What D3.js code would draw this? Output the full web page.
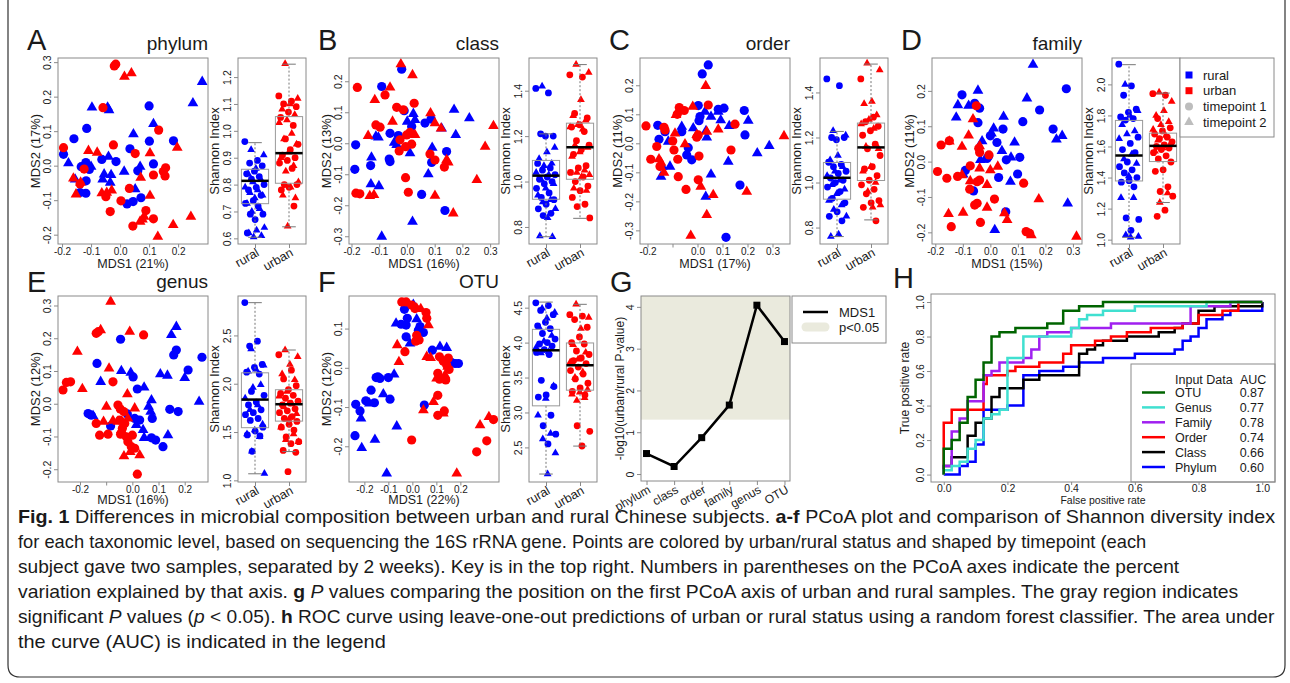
<!DOCTYPE html>
<html>
<head>
<meta charset="utf-8">
<script src="https://cdn.jsdelivr.net/npm/d3@7"></script>
<style>
  body { margin: 0; background: #fff; }
  svg text { font-family: "Liberation Sans", Arial, Helvetica, sans-serif; fill: #1a1a1a; }
</style>
</head>
<body>
<svg id="fig" width="1290" height="683"></svg>
<script>
// ---------- PCoA points: [MDS1, MDS2, group]  r = rural, u = urban, 1/2 = timepoint ----------
var phylumPts = [
  [0.100,0.173,"r1"],[-0.115,0.108,"r1"],[-0.159,0.078,"r1"],[0.184,0.072,"r1"],[0.101,0.071,"r1"],
  [0.034,0.049,"r1"],[-0.195,0.033,"r1"],[-0.134,-0.003,"r1"],[-0.118,0.009,"r1"],[-0.063,0.018,"r1"],
  [-0.014,0.012,"r1"],[0.115,0.005,"r1"],[0.061,-0.015,"r1"],[-0.117,-0.044,"r1"],[-0.138,-0.078,"r1"],
  [-0.118,-0.080,"r1"],[0.072,-0.093,"r1"],[0.024,-0.111,"r1"],[0.045,-0.104,"r1"],[-0.106,-0.011,"r1"],
  [0.283,0.243,"r2"],[0.251,0.181,"r2"],[-0.097,0.169,"r2"],[-0.043,0.169,"r2"],[-0.038,0.161,"r2"],
  [0.115,0.121,"r2"],[0.046,0.091,"r2"],[-0.178,0.007,"r2"],[-0.100,-0.003,"r2"],[-0.040,0.026,"r2"],
  [0.069,-0.003,"r2"],[0.014,-0.017,"r2"],[-0.055,-0.025,"r2"],[-0.031,-0.027,"r2"],[-0.060,-0.040,"r2"],
  [-0.034,-0.049,"r2"],[0.052,-0.068,"r2"],[-0.155,-0.040,"r2"],
  [-0.020,0.289,"u1"],[-0.015,0.294,"u1"],[-0.059,0.168,"u1"],[0.133,0.103,"u1"],[-0.195,0.052,"u1"],
  [-0.023,0.060,"u1"],[0.052,0.035,"u1"],[0.157,-0.006,"u1"],[0.149,-0.017,"u1"],[0.155,-0.030,"u1"],
  [0.115,-0.027,"u1"],[-0.124,-0.010,"u1"],[-0.049,-0.090,"u1"],[0.032,-0.066,"u1"],[0.003,-0.102,"u1"],
  [-0.034,-0.133,"u1"],[0.089,-0.130,"u1"],[0.115,-0.154,"u1"],[0.044,-0.175,"u1"],[-0.138,-0.053,"u1"],
  [0.015,0.258,"u2"],[0.039,0.268,"u2"],[0.197,0.052,"u2"],[-0.109,0.043,"u2"],[-0.079,0.038,"u2"],
  [0.103,0.036,"u2"],[0.071,-0.035,"u2"],[-0.161,-0.037,"u2"],[-0.136,-0.049,"u2"],[-0.152,-0.083,"u2"],
  [-0.063,-0.080,"u2"],[-0.046,-0.078,"u2"],[-0.029,-0.072,"u2"],[0.103,-0.087,"u2"],[0.077,-0.156,"u2"],
  [0.083,-0.148,"u2"],[0.069,-0.162,"u2"],[0.183,-0.172,"u2"],[0.244,-0.148,"u2"],[0.130,-0.206,"u2"]
];
var classPts = [
  [-0.019,0.239,"r1"],[-0.091,0.183,"r1"],[-0.010,0.105,"r1"],[0.087,0.078,"r1"],[0.065,0.065,"r1"],
  [0.017,0.054,"r1"],[-0.061,0.032,"r1"],[-0.031,0.025,"r1"],[-0.185,-0.005,"r1"],[0.143,-0.027,"r1"],
  [-0.131,-0.072,"r1"],[-0.064,-0.051,"r1"],[-0.061,-0.059,"r1"],[0.089,-0.062,"r1"],[-0.188,-0.084,"r1"],
  [0.053,-0.165,"r1"],[0.137,-0.217,"r1"],
  [0.023,0.095,"r2"],[0.170,0.108,"r2"],[0.225,0.081,"r2"],[0.125,0.048,"r2"],[0.029,0.075,"r2"],
  [0.001,0.070,"r2"],[-0.112,0.022,"r2"],[-0.103,0.019,"r2"],[-0.046,0.002,"r2"],[-0.037,-0.005,"r2"],
  [0.011,-0.032,"r2"],[0.091,-0.014,"r2"],[-0.128,-0.046,"r2"],[0.077,-0.100,"r2"],[-0.130,-0.132,"r2"],
  [-0.101,-0.138,"r2"],[0.020,-0.253,"r2"],[-0.091,-0.301,"r2"],[0.176,0.027,"r2"],
  [-0.179,0.180,"u1"],[-0.079,0.156,"u1"],[-0.037,0.116,"u1"],[-0.013,0.108,"u1"],[0.026,0.129,"u1"],
  [-0.112,0.059,"u1"],[-0.097,0.052,"u1"],[0.011,0.035,"u1"],[-0.001,0.027,"u1"],[-0.025,0.011,"u1"],
  [-0.005,-0.011,"u1"],[0.017,-0.003,"u1"],[-0.028,-0.025,"u1"],[0.083,-0.035,"u1"],[0.101,-0.054,"u1"],
  [0.135,-0.077,"u1"],[-0.005,-0.111,"u1"],[-0.184,-0.161,"u1"],[-0.170,-0.163,"u1"],[0.005,-0.158,"u1"],
  [-0.022,0.255,"u2"],[0.020,0.220,"u2"],[-0.061,0.180,"u2"],[-0.116,0.140,"u2"],[0.085,0.097,"u2"],
  [0.312,0.056,"u2"],[0.101,0.065,"u2"],[0.123,0.048,"u2"],[-0.052,0.070,"u2"],[0.029,0.027,"u2"],
  [-0.140,0.024,"u2"],[0.143,-0.054,"u2"],[0.149,-0.062,"u2"],[0.282,-0.011,"u2"],[0.252,-0.118,"u2"],
  [-0.134,-0.170,"u2"],[-0.119,-0.167,"u2"],[0.101,-0.169,"u2"],[0.167,-0.226,"u2"]
];
var orderPts = [
  [0.043,0.270,"r1"],[0.019,0.239,"r1"],[0.003,0.130,"r1"],[0.083,0.117,"r1"],[0.106,0.121,"r1"],
  [0.187,0.113,"r1"],[0.010,0.092,"r1"],[0.006,0.078,"r1"],[-0.159,0.062,"r1"],[-0.154,0.014,"r1"],
  [-0.130,0.040,"r1"],[-0.037,-0.015,"r1"],[-0.043,-0.040,"r1"],[-0.023,-0.057,"r1"],[0.190,0.029,"r1"],
  [0.170,-0.144,"r1"],[0.114,-0.324,"r1"],[-0.063,0.040,"r1"],
  [0.030,0.109,"r2"],[0.054,0.092,"r2"],[0.083,0.109,"r2"],[0.093,0.080,"r2"],[0.203,0.078,"r2"],
  [0.127,0.060,"r2"],[-0.063,0.057,"r2"],[-0.017,0.052,"r2"],[0.034,0.043,"r2"],[0.037,0.020,"r2"],
  [-0.117,0.006,"r2"],[0.287,-0.009,"r2"],[0.239,-0.034,"r2"],[-0.110,-0.080,"r2"],[-0.141,-0.080,"r2"],
  [0.123,-0.063,"r2"],[-0.146,-0.115,"r2"],[0.054,-0.107,"r2"],[0.033,-0.184,"r2"],
  [-0.073,0.123,"u1"],[-0.053,0.113,"u1"],[-0.081,0.100,"u1"],[0.043,0.132,"u1"],[0.150,0.066,"u1"],
  [-0.206,0.060,"u1"],[-0.134,0.055,"u1"],[-0.130,0.046,"u1"],[-0.003,0.021,"u1"],[0.003,0.029,"u1"],
  [-0.099,0.008,"u1"],[-0.163,-0.011,"u1"],[-0.094,-0.023,"u1"],[0.134,-0.023,"u1"],[-0.187,-0.055,"u1"],
  [-0.079,-0.055,"u1"],[0.006,-0.044,"u1"],[-0.150,-0.080,"u1"],[-0.077,-0.115,"u1"],[0.003,-0.126,"u1"],
  [-0.046,-0.159,"u1"],
  [0.033,0.198,"u2"],[-0.019,0.126,"u2"],[0.083,0.048,"u2"],[0.346,0.025,"u2"],[-0.090,0.034,"u2"],
  [-0.003,0.029,"u2"],[0.037,0.040,"u2"],[-0.050,-0.003,"u2"],[-0.154,-0.055,"u2"],[-0.146,-0.067,"u2"],
  [-0.134,-0.101,"u2"],[0.013,-0.149,"u2"],[0.197,-0.167,"u2"],[0.063,-0.178,"u2"],[0.037,-0.247,"u2"],
  [-0.027,-0.318,"u2"],[-0.086,0.098,"u2"]
];
var familyPts = [
  [0.276,0.206,"r1"],[-0.103,0.189,"r1"],[-0.057,0.165,"r1"],[-0.039,0.151,"r1"],[-0.045,0.110,"r1"],
  [0.179,0.146,"r1"],[0.118,0.113,"r1"],[0.228,0.092,"r1"],[0.046,0.092,"r1"],[0.000,0.073,"r1"],
  [0.024,0.054,"r1"],[-0.006,0.016,"r1"],[-0.012,0.009,"r1"],[0.058,0.005,"r1"],[0.107,0.012,"r1"],
  [-0.091,-0.025,"r1"],[0.030,-0.045,"r1"],[0.099,-0.035,"r1"],[-0.061,-0.083,"r1"],[0.056,-0.142,"r1"],
  [0.155,0.274,"r2"],[-0.045,0.201,"r2"],[0.133,0.179,"r2"],[-0.118,0.160,"r2"],[-0.079,0.158,"r2"],
  [-0.124,0.125,"r2"],[0.048,0.127,"r2"],[0.261,0.073,"r2"],[0.240,0.063,"r2"],[0.012,0.094,"r2"],
  [0.004,0.080,"r2"],[0.088,0.054,"r2"],[-0.030,0.058,"r2"],[-0.036,0.005,"r2"],[0.042,0.030,"r2"],
  [0.075,0.012,"r2"],[-0.099,-0.036,"r2"],[0.073,-0.057,"r2"],[0.281,-0.118,"r2"],[0.016,-0.193,"r2"],
  [-0.051,0.158,"u1"],[-0.179,0.047,"u1"],[-0.149,0.059,"u1"],[-0.042,0.038,"u1"],[-0.039,0.026,"u1"],
  [-0.005,0.019,"u1"],[-0.192,-0.028,"u1"],[-0.158,-0.047,"u1"],[-0.119,-0.042,"u1"],[-0.073,-0.012,"u1"],
  [-0.039,-0.052,"u1"],[-0.048,-0.057,"u1"],[0.121,-0.061,"u1"],[-0.075,-0.078,"u1"],[-0.057,-0.123,"u1"],
  [-0.048,-0.118,"u1"],[0.015,-0.106,"u1"],[-0.142,-0.184,"u1"],[-0.036,-0.172,"u1"],[0.130,-0.198,"u1"],
  [0.143,-0.203,"u1"],
  [-0.063,0.120,"u2"],[-0.079,0.074,"u2"],[-0.039,0.044,"u2"],[-0.103,0.042,"u2"],[-0.149,0.057,"u2"],
  [-0.103,-0.038,"u2"],[-0.039,-0.019,"u2"],[-0.073,-0.055,"u2"],[-0.012,-0.066,"u2"],[0.000,-0.024,"u2"],
  [0.027,-0.014,"u2"],[0.176,-0.106,"u2"],[-0.152,-0.148,"u2"],[-0.099,-0.144,"u2"],[-0.012,-0.130,"u2"],
  [0.061,-0.165,"u2"],[0.149,-0.208,"u2"],[0.313,-0.212,"u2"],[0.051,-0.146,"u2"]
];
var genusPts = [
  [-0.045,0.197,"r1"],[0.158,0.149,"r1"],[0.168,0.164,"r1"],[0.266,0.142,"r1"],[-0.135,0.123,"r1"],
  [0.003,0.082,"r1"],[0.213,0.103,"r1"],[0.019,0.045,"r1"],[-0.169,-0.030,"r1"],[-0.157,-0.035,"r1"],
  [-0.019,-0.031,"r1"],[0.143,-0.017,"r1"],[0.175,-0.024,"r1"],[0.009,-0.045,"r1"],[0.028,-0.050,"r1"],
  [0.076,-0.045,"r1"],[-0.083,-0.068,"r1"],[0.073,-0.104,"r1"],[0.089,-0.111,"r1"],[0.117,-0.131,"r1"],
  [0.168,0.235,"r2"],[0.149,0.210,"r2"],[-0.042,0.100,"r2"],[-0.006,0.095,"r2"],[0.107,0.090,"r2"],
  [0.134,0.086,"r2"],[0.200,0.079,"r2"],[0.255,0.006,"r2"],[-0.121,0.067,"r2"],[0.045,0.050,"r2"],
  [0.073,0.011,"r2"],[0.062,-0.009,"r2"],[0.070,-0.024,"r2"],[-0.150,-0.037,"r2"],[0.015,-0.065,"r2"],
  [0.041,-0.080,"r2"],[0.045,-0.104,"r2"],[0.136,-0.096,"r2"],
  [0.043,0.210,"u1"],[-0.138,0.215,"u1"],[-0.130,0.220,"u1"],[-0.265,0.042,"u1"],[-0.252,0.065,"u1"],
  [-0.236,0.067,"u1"],[-0.074,0.067,"u1"],[-0.055,-0.004,"u1"],[-0.046,-0.016,"u1"],[-0.033,-0.024,"u1"],
  [-0.138,-0.060,"u1"],[-0.125,-0.096,"u1"],[-0.093,-0.093,"u1"],[-0.038,-0.075,"u1"],[-0.045,-0.093,"u1"],
  [-0.023,-0.101,"u1"],[0.000,-0.096,"u1"],[-0.017,-0.116,"u1"],[-0.004,-0.131,"u1"],[0.009,-0.136,"u1"],
  [0.019,-0.215,"u1"],[-0.048,-0.050,"u1"],[-0.029,-0.060,"u1"],
  [-0.083,0.312,"u2"],[-0.121,0.225,"u2"],[-0.010,0.220,"u2"],[-0.210,0.159,"u2"],[-0.089,0.108,"u2"],
  [-0.191,0.045,"u2"],[-0.019,0.029,"u2"],[-0.099,-0.009,"u2"],[0.009,-0.014,"u2"],[-0.110,-0.055,"u2"],
  [-0.074,-0.052,"u2"],[-0.055,-0.055,"u2"],[-0.017,-0.045,"u2"],[-0.032,-0.160,"u2"],[0.028,-0.157,"u2"],
  [-0.042,-0.080,"u2"],[-0.008,-0.147,"u2"]
];
var otuPts = [
  [-0.033,0.149,"r1"],[-0.021,0.126,"r1"],[-0.026,0.109,"r1"],[-0.047,0.111,"r1"],[0.032,0.105,"r1"],
  [0.025,0.096,"r1"],[0.046,0.090,"r1"],[-0.026,0.079,"r1"],[0.083,0.045,"r1"],[0.164,0.013,"r1"],
  [0.178,0.011,"r1"],[0.192,0.011,"r1"],[-0.144,-0.023,"r1"],[-0.151,-0.025,"r1"],[-0.135,-0.027,"r1"],
  [-0.100,-0.025,"r1"],[-0.172,-0.057,"r1"],[-0.093,-0.080,"r1"],[-0.158,-0.089,"r1"],[-0.194,-0.084,"r1"],
  [-0.236,-0.093,"r1"],[-0.218,-0.110,"r1"],[0.050,-0.095,"r1"],[-0.239,-0.173,"r1"],
  [0.004,0.161,"r2"],[-0.068,0.113,"r2"],[0.018,0.124,"r2"],[-0.010,0.062,"r2"],[0.115,0.054,"r2"],
  [0.143,0.051,"r2"],[-0.076,-0.017,"r2"],[-0.121,-0.067,"r2"],[-0.179,-0.091,"r2"],[-0.214,-0.129,"r2"],
  [-0.065,-0.149,"r2"],[-0.156,-0.183,"r2"],[-0.211,-0.204,"r2"],[-0.107,-0.269,"r2"],
  [-0.044,0.168,"u1"],[-0.026,0.168,"u1"],[-0.003,0.160,"u1"],[0.011,0.151,"u1"],[0.057,0.141,"u1"],
  [0.060,0.126,"u1"],[0.018,0.083,"u1"],[0.028,0.071,"u1"],[0.014,0.068,"u1"],[-0.031,0.041,"u1"],
  [0.113,0.028,"u1"],[0.150,0.025,"u1"],[0.129,0.017,"u1"],[0.143,0.007,"u1"],[0.153,-0.004,"u1"],
  [0.106,-0.014,"u1"],[0.113,-0.029,"u1"],[0.139,-0.031,"u1"],[0.106,-0.070,"u1"],[0.133,-0.110,"u1"],
  [0.106,-0.121,"u1"],[0.338,-0.132,"u1"],[-0.003,-0.184,"u1"],[0.268,-0.214,"u1"],[0.310,-0.186,"u1"],
  [0.018,0.151,"u2"],[0.035,0.150,"u2"],[0.067,0.109,"u2"],[-0.063,0.058,"u2"],[0.060,0.028,"u2"],
  [0.076,0.025,"u2"],[-0.056,0.015,"u2"],[0.147,0.003,"u2"],[0.101,-0.027,"u2"],[0.136,-0.019,"u2"],
  [0.088,-0.087,"u2"],[0.129,-0.116,"u2"],[0.046,-0.108,"u2"],[0.282,-0.146,"u2"],[0.319,-0.125,"u2"],
  [0.185,-0.269,"u2"]
];

// ---------- Shannon index per sample ----------
var phylumShannon = {
  r1: [0.96,0.89,0.88,0.87,0.85,0.84,0.83,0.82,0.80,0.79,0.78,0.76,0.74,0.73,0.72,0.69,0.69,0.67,0.62],
  r2: [0.93,0.91,0.86,0.84,0.82,0.81,0.79,0.78,0.77,0.76,0.75,0.73,0.71,0.70,0.64,0.63,0.62,0.61,0.605],
  u1: [1.13,1.11,1.10,1.09,1.07,1.05,1.02,0.97,0.95,0.93,0.91,0.90,0.89,0.88,0.86,0.80,0.80,0.79,0.78,0.72],
  u2: [1.25,1.12,1.10,1.08,1.06,1.04,1.03,0.99,0.97,0.95,0.92,0.90,0.87,0.85,0.81,0.79,0.76,0.75,0.645]
};
var classShannon = {
  r1: [1.41,1.39,1.21,1.20,1.20,1.08,1.06,1.05,1.03,1.02,1.01,1.00,0.99,0.97,0.95,0.93,0.92,0.90,0.88,0.86,0.85],
  r2: [1.42,1.15,1.13,1.10,1.08,1.07,1.04,1.03,1.01,0.99,0.97,0.94,0.92,0.91,0.88,0.84,0.76,0.757],
  u1: [1.47,1.46,1.30,1.28,1.25,1.24,1.22,1.18,1.16,1.14,1.12,1.07,1.06,1.04,1.02,1.00,0.98,0.96,0.93,0.90,0.89,0.84],
  u2: [1.515,1.48,1.36,1.29,1.27,1.25,1.24,1.23,1.16,1.15,1.13,1.11,1.05,1.04,1.03,1.02,0.97,0.96]
};
var orderShannon = {
  r1: [1.46,1.43,1.20,1.20,1.19,1.09,1.08,1.07,1.05,1.04,1.02,1.01,1.00,0.98,0.96,0.93,0.91,0.87,0.85,0.83],
  r2: [1.23,1.21,1.12,1.10,1.07,1.05,1.03,1.01,0.99,0.97,0.95,0.92,0.90,0.88,0.85,0.77,0.76],
  u1: [1.46,1.29,1.27,1.25,1.23,1.21,1.17,1.15,1.12,1.07,1.06,1.03,1.01,0.99,0.97,0.95,0.92,0.91,0.89,0.83],
  u2: [1.53,1.50,1.36,1.35,1.30,1.28,1.26,1.24,1.16,1.15,1.07,1.05,1.00,0.96,0.90,0.89]
};
var familyShannon = {
  r1: [2.13,1.99,1.93,1.84,1.82,1.79,1.78,1.77,1.66,1.62,1.58,1.56,1.50,1.47,1.45,1.43,1.40,1.38,1.37,1.34,1.14,1.13,1.06],
  r2: [2.00,1.83,1.80,1.74,1.70,1.68,1.65,1.55,1.52,1.49,1.41,1.27,1.27,1.03,1.02,1.015],
  u1: [1.94,1.93,1.78,1.72,1.70,1.68,1.66,1.65,1.63,1.61,1.60,1.59,1.58,1.56,1.54,1.52,1.50,1.45,1.44,1.34,1.31,1.28,1.19,1.15],
  u2: [1.95,1.89,1.83,1.80,1.76,1.74,1.71,1.67,1.64,1.62,1.59,1.57,1.30,1.24]
};
var genusShannon = {
  r1: [2.84,2.44,2.39,2.20,2.17,2.12,2.10,1.92,1.88,1.81,1.78,1.73,1.70,1.68,1.64,1.62,1.55,1.51,1.47,1.46,1.30],
  r2: [2.36,2.19,2.15,2.13,1.99,1.96,1.85,1.78,1.73,1.58,1.52,1.48,1.45,1.30,1.07],
  u1: [2.30,2.14,2.05,1.98,1.94,1.90,1.88,1.85,1.82,1.80,1.78,1.74,1.72,1.70,1.66,1.64,1.61,1.58,1.55,1.52,1.45,1.40,1.38,1.31,1.29,1.09],
  u2: [2.35,2.28,2.20,2.10,2.04,1.92,1.87,1.79,1.76,1.69,1.63,1.55,1.48,1.42,1.40]
};
var otuShannon = {
  r1: [4.57,4.53,4.46,4.40,4.29,4.24,4.20,4.13,4.05,4.00,3.98,3.95,3.90,3.86,3.83,3.46,3.37,3.25,3.22,2.96,2.81,2.69,2.55],
  r2: [4.49,4.43,4.35,4.22,4.10,4.02,3.93,3.87,3.85,3.38,3.20,2.96,2.70,2.62,2.42,2.12],
  u1: [4.40,4.38,4.33,4.22,4.08,4.00,3.98,3.88,3.83,3.78,3.74,3.70,3.65,3.60,3.55,3.48,3.42,3.35,3.30,3.25,2.81,2.73,2.52],
  u2: [4.55,4.36,4.20,3.97,3.86,3.76,3.72,3.58,3.50,3.33,3.29,3.26,3.21,3.17]
};

// box stats: [lower whisker, Q1, median, Q3, upper whisker]
var phylumBox = { rural: [0.604,0.729,0.814,0.857,0.956], urban: [0.643,0.805,0.917,1.053,1.248] };
var classBox  = { rural: [0.757,0.922,1.026,1.093,1.21],  urban: [0.838,1.01,1.151,1.257,1.515] };
var orderBox  = { rural: [0.76,0.926,1.021,1.089,1.227],  urban: [0.834,1.009,1.156,1.264,1.526] };
var familyBox = { rural: [1.015,1.378,1.542,1.768,2.127], urban: [1.239,1.503,1.604,1.686,1.944] };
var genusBox  = { rural: [1.068,1.545,1.836,2.113,2.839], urban: [1.298,1.613,1.788,1.938,2.349] };
var otuBox    = { rural: [2.119,3.095,3.89,4.19,4.58],    urban: [2.519,3.319,3.676,3.995,4.548] };

// ---------- panel G ----------
var levels = ["phylum", "class", "order", "family", "genus", "OTU"];
var mds1LogP = [0.49, 0.18, 0.87, 1.65, 4.04, 3.17];

// ---------- panel H: ROC points [false positive rate, true positive rate] ----------
var rocOTU = [[0,0],[0,0.15],[0.025,0.2],[0.05,0.3],[0.075,0.45],[0.1,0.55],[0.125,0.65],[0.15,0.8],
  [0.175,0.825],[0.225,0.85],[0.325,0.875],[0.375,0.95],[0.425,0.975],[0.5,1],[1,1]];
var rocGenus = [[0,0],[0,0.025],[0.025,0.05],[0.05,0.075],[0.075,0.15],[0.1,0.2],[0.125,0.325],[0.15,0.35],
  [0.175,0.375],[0.2,0.675],[0.25,0.8],[0.4,0.85],[0.425,0.9],[0.45,0.925],[0.5,0.95],[0.6,0.975],[0.825,1],[1,1]];
var rocFamily = [[0,0],[0,0.05],[0.025,0.25],[0.05,0.325],[0.075,0.425],[0.125,0.575],[0.15,0.6],[0.175,0.65],
  [0.25,0.675],[0.275,0.725],[0.3,0.8],[0.325,0.825],[0.4,0.85],[0.525,0.875],[0.775,0.975],[0.9,1],[1,1]];
var rocOrder = [[0,0],[0,0.3],[0.025,0.375],[0.125,0.525],[0.135,0.575],[0.2,0.6],[0.225,0.625],[0.3,0.65],
  [0.375,0.7],[0.4,0.75],[0.475,0.775],[0.525,0.8],[0.575,0.825],[0.65,0.85],[0.75,0.875],[0.8,0.925],
  [0.875,0.95],[0.925,1],[1,1]];
var rocClass = [[0,0],[0,0.05],[0.025,0.1],[0.075,0.225],[0.1,0.3],[0.125,0.325],[0.15,0.45],[0.175,0.5],
  [0.25,0.55],[0.3,0.575],[0.425,0.7],[0.45,0.725],[0.475,0.75],[0.5,0.775],[0.575,0.8],[0.675,0.825],
  [0.725,0.85],[0.75,0.875],[0.8,0.95],[0.85,0.975],[1,1]];
var rocPhylum = [[0,0],[0.05,0.05],[0.075,0.075],[0.1,0.175],[0.125,0.375],[0.2,0.4],[0.25,0.575],[0.3,0.6],
  [0.375,0.625],[0.425,0.65],[0.5,0.675],[0.6,0.7],[0.725,0.725],[0.75,0.775],[0.775,0.8],[0.8,0.85],
  [0.825,0.9],[0.875,0.925],[0.9,0.95],[1,1]];
var rocNames = ["OTU", "Genus", "Family", "Order", "Class", "Phylum"];
var rocAUC = ["0.87", "0.77", "0.78", "0.74", "0.66", "0.60"];
var rocColors = ["#006400", "#40E0D0", "#A020F0", "#FF0000", "#000000", "#0000FF"];

// ---------- drawing ----------
var svg = d3.select("#fig");
var BLUE = "#0000FF", RED = "#FF0000", GREY = "#8a8a8a";
var W = 150, H = 186;

function frame(g, w, h) {
  g.append("rect").attr("width", w).attr("height", h)
    .attr("fill", "none").attr("stroke", GREY).attr("stroke-width", 1);
}

function mark(g, cx, cy, grp, r, triSize) {
  var col = grp[0] === "r" ? BLUE : RED;
  if (grp[1] === "1") {
    g.append("circle").attr("cx", cx).attr("cy", cy).attr("r", r).attr("fill", col);
  } else {
    g.append("path").attr("d", d3.symbol(d3.symbolTriangle, triSize)())
      .attr("transform", `translate(${cx},${cy})`).attr("fill", col);
  }
}

function bottomAxis(g, x, ticks, skip, y0, fmt) {
  var a = g.append("g").attr("transform", `translate(0,${y0})`)
    .call(d3.axisBottom(x).tickValues(ticks).tickSize(3.5).tickPadding(0)
      .tickFormat(d => skip.includes(d) ? "" : fmt(d)));
  a.select(".domain").remove();
  a.selectAll("line").attr("stroke", GREY);
  a.selectAll("text").attr("font-size", 10).attr("fill", "#1a1a1a");
}

function leftAxis(g, y, ticks, fmt) {
  var a = g.append("g")
    .call(d3.axisLeft(y).tickValues(ticks).tickSize(4).tickFormat(fmt));
  a.select(".domain").remove();
  a.selectAll("line").attr("stroke", GREY);
  a.selectAll("text").attr("font-size", 10.5).attr("fill", "#1a1a1a")
    .attr("x", null).attr("dy", null).attr("text-anchor", "middle")
    .attr("transform", "translate(-7,0) rotate(-90)");
}

var f1 = d => d.toFixed(1);

function scatterPanel(p) {
  var g = svg.append("g").attr("transform", `translate(${p.left},${p.top})`);
  var x = d3.scaleLinear().domain(p.xDom).range([0, W]);
  var y = d3.scaleLinear().domain(p.yDom).range([H, 0]);
  p.pts.forEach(d => mark(g, x(d[0]), y(d[1]), d[2], 4.6, 50));
  frame(g, W, H);
  bottomAxis(g, x, p.xTicks, p.xSkip, H, f1);
  leftAxis(g, y, p.yTicks, f1);
  g.append("text").attr("x", W / 2).attr("y", H + p.xTitleDy).attr("text-anchor", "middle")
    .attr("font-size", 12.5).text(p.xTitle);
  g.append("text").attr("transform", `translate(-18,${H / 2}) rotate(-90)`)
    .attr("text-anchor", "middle").attr("font-size", 13).text(p.yTitle);
  g.append("text").attr("x", W).attr("y", -8).attr("text-anchor", "end")
    .attr("font-size", 19).text(p.title);
  g.append("text").attr("x", -31).attr("y", p.letterY).attr("font-size", 29).text(p.letter);

  // Shannon index box plot
  var b = svg.append("g").attr("transform", `translate(${p.left + 180},${p.top})`);
  var bw = 68;
  var bx = d3.scaleLinear().domain([0.5, 2.5]).range([0, bw]);
  var by = d3.scaleLinear().domain(p.shDom).range([H, 0]);
  ["r1", "r2", "u1", "u2"].forEach(function (k) {
    var pos = k[0] === "r" ? 1 : 2;
    p.sh[k].forEach(function (v, i) {
      var off = (((i + (k[1] === "2" ? 0.5 : 0)) * 0.618034) % 1 - 0.5) * 0.6;
      mark(b, bx(pos + off), by(v), k, 3.4, 26);
    });
  });
  [p.box.rural, p.box.urban].forEach(function (s, i) {
    var pos = i + 1;
    b.append("line").attr("x1", bx(pos)).attr("x2", bx(pos)).attr("y1", by(s[3])).attr("y2", by(s[4]))
      .attr("stroke", "#777").attr("stroke-dasharray", "2,2");
    b.append("line").attr("x1", bx(pos)).attr("x2", bx(pos)).attr("y1", by(s[1])).attr("y2", by(s[0]))
      .attr("stroke", "#777").attr("stroke-dasharray", "2,2");
    [s[0], s[4]].forEach(function (v) {
      b.append("line").attr("x1", bx(pos - 0.2)).attr("x2", bx(pos + 0.2)).attr("y1", by(v)).attr("y2", by(v))
        .attr("stroke", "#777");
    });
    b.append("rect").attr("x", bx(pos - 0.4)).attr("width", bx(pos + 0.4) - bx(pos - 0.4))
      .attr("y", by(s[3])).attr("height", by(s[1]) - by(s[3]))
      .attr("fill", "none").attr("stroke", "#999");
    b.append("line").attr("x1", bx(pos - 0.4)).attr("x2", bx(pos + 0.4)).attr("y1", by(s[2])).attr("y2", by(s[2]))
      .attr("stroke", "#000").attr("stroke-width", 2.5);
  });
  frame(b, bw, H);
  leftAxis(b, by, p.shTicks, f1);
  var bt = b.append("g").attr("transform", `translate(0,${H})`)
    .call(d3.axisBottom(bx).tickValues([1, 2]).tickSize(4).tickFormat(""));
  bt.select(".domain").remove();
  bt.selectAll("line").attr("stroke", GREY);
  ["rural", "urban"].forEach(function (t, i) {
    b.append("text").attr("text-anchor", "end").attr("font-size", 12.5)
      .attr("transform", `translate(${bx(i + 1) + 5},${H + 11}) rotate(-30)`).text(t);
  });
  b.append("text").attr("transform", `translate(-19,${H / 2}) rotate(-90)`)
    .attr("text-anchor", "middle").attr("font-size", 13).text("Shannon Index");
}

var panels = [
  { pts: phylumPts, sh: phylumShannon, box: phylumBox, left: 58, top: 58, letter: "A", letterY: -8, title: "phylum",
    xDom: [-0.214, 0.303], yDom: [-0.227, 0.312], xTicks: [-0.2, -0.1, 0, 0.1, 0.2], xSkip: [], xTitleDy: 24,
    yTicks: [-0.2, -0.1, 0, 0.1, 0.2, 0.3], xTitle: "MDS1 (21%)", yTitle: "MDS2 (17%)",
    shDom: [0.579, 1.271], shTicks: [0.6, 0.7, 0.8, 0.9, 1.0, 1.1, 1.2] },
  { pts: classPts, sh: classShannon, box: classBox, left: 349, top: 58, letter: "B", letterY: -8, title: "class",
    xDom: [-0.209, 0.332], yDom: [-0.325, 0.275], xTicks: [-0.2, -0.1, 0, 0.1, 0.2, 0.3], xSkip: [], xTitleDy: 24,
    yTicks: [-0.3, -0.2, -0.1, 0, 0.1, 0.2], xTitle: "MDS1 (16%)", yTitle: "MDS2 (13%)",
    shDom: [0.725, 1.544], shTicks: [0.8, 1.0, 1.2, 1.4] },
  { pts: orderPts, sh: orderShannon, box: orderBox, left: 640, top: 58, letter: "C", letterY: -8, title: "order",
    xDom: [-0.23, 0.37], yDom: [-0.347, 0.294], xTicks: [-0.2, -0.1, 0, 0.1, 0.2, 0.3], xSkip: [-0.1], xTitleDy: 24,
    yTicks: [-0.3, -0.2, -0.1, 0, 0.1, 0.2], xTitle: "MDS1 (17%)", yTitle: "MDS2 (11%)",
    shDom: [0.727, 1.553], shTicks: [0.8, 1.0, 1.2, 1.4] },
  { pts: familyPts, sh: familyShannon, box: familyBox, left: 932, top: 58, letter: "D", letterY: -8, title: "family",
    xDom: [-0.212, 0.333], yDom: [-0.233, 0.293], xTicks: [-0.2, -0.1, 0, 0.1, 0.2, 0.3], xSkip: [], xTitleDy: 24,
    yTicks: [-0.2, -0.1, 0, 0.1, 0.2], xTitle: "MDS1 (15%)", yTitle: "MDS2 (11%)",
    shDom: [0.972, 2.17], shTicks: [1.0, 1.2, 1.4, 1.6, 1.8, 2.0] },
  { pts: genusPts, sh: genusShannon, box: genusBox, left: 58, top: 296, letter: "E", letterY: -4, title: "genus",
    xDom: [-0.284, 0.289], yDom: [-0.239, 0.329], xTicks: [-0.2, -0.1, 0, 0.1, 0.2], xSkip: [-0.1], xTitleDy: 22,
    yTicks: [-0.2, -0.1, 0, 0.1, 0.2, 0.3], xTitle: "MDS1 (16%)", yTitle: "MDS2 (12%)",
    shDom: [0.983, 2.908], shTicks: [1.0, 1.5, 2.0, 2.5] },
  { pts: otuPts, sh: otuShannon, box: otuBox, left: 349, top: 296, letter: "F", letterY: -4, title: "OTU",
    xDom: [-0.264, 0.361], yDom: [-0.291, 0.183], xTicks: [-0.2, -0.1, 0, 0.1, 0.2], xSkip: [], xTitleDy: 22,
    yTicks: [-0.2, -0.1, 0, 0.1], xTitle: "MDS1 (22%)", yTitle: "MDS2 (12%)",
    shDom: [2.005, 4.667], shTicks: [2.5, 3.0, 3.5, 4.0, 4.5] }
];
panels.forEach(scatterPanel);

// key for A-F
var key = svg.append("g").attr("transform", "translate(1180,58)");
key.append("rect").attr("width", 94).attr("height", 79).attr("fill", "#fff").attr("stroke", GREY);
[["rural", "sq", BLUE], ["urban", "sq", RED], ["timepoint 1", "c", "#bdbdbd"], ["timepoint 2", "t", "#bdbdbd"]]
  .forEach(function (it, i) {
    var cy = 17 + i * 15.7;
    if (it[1] === "sq") key.append("rect").attr("x", 5.5).attr("y", cy - 3.5).attr("width", 7).attr("height", 7).attr("fill", it[2]);
    if (it[1] === "c") key.append("circle").attr("cx", 9).attr("cy", cy).attr("r", 4).attr("fill", it[2]);
    if (it[1] === "t") key.append("path").attr("d", d3.symbol(d3.symbolTriangle, 40)()).attr("transform", `translate(9,${cy})`).attr("fill", it[2]);
    key.append("text").attr("x", 23).attr("y", cy + 4.5).attr("font-size", 13).text(it[0]);
  });

// ---------- G ----------
(function () {
  var left = 641, top = 296, w = 149, h = 185;
  var g = svg.append("g").attr("transform", `translate(${left},${top})`);
  var x = d3.scaleLinear().domain([0.8, 6.2]).range([0, w]);
  var y = d3.scaleLinear().domain([-0.167, 4.26]).range([h, 0]);
  g.append("rect").attr("x", 0).attr("y", 0).attr("width", w).attr("height", y(-Math.log10(0.05)))
    .attr("fill", "#EAEADD");
  var line = d3.line().x((d, i) => x(i + 1)).y(d => y(d));
  g.append("path").attr("d", line(mds1LogP)).attr("fill", "none").attr("stroke", "#000").attr("stroke-width", 2.5);
  g.selectAll("rect.pt").data(mds1LogP).join("rect").attr("class", "pt")
    .attr("x", (d, i) => x(i + 1) - 3.5).attr("y", d => y(d) - 3.5).attr("width", 7).attr("height", 7).attr("fill", "#000");
  frame(g, w, h);
  leftAxis(g, y, [0, 1, 2, 3, 4], d => String(d));
  var bt = g.append("g").attr("transform", `translate(0,${h})`)
    .call(d3.axisBottom(x).tickValues([1, 2, 3, 4, 5, 6]).tickSize(4).tickFormat(""));
  bt.select(".domain").remove();
  bt.selectAll("line").attr("stroke", GREY);
  levels.forEach(function (t, i) {
    g.append("text").attr("text-anchor", "end").attr("font-size", 12)
      .attr("transform", `translate(${x(i + 1) + 5},${h + 11}) rotate(-30)`).text(t);
  });
  g.append("text").attr("transform", `translate(-17,${h / 2}) rotate(-90)`)
    .attr("text-anchor", "middle").attr("font-size", 12).text("-log10(urban/rural P-value)");
  g.append("text").attr("x", -31).attr("y", -4).attr("font-size", 29).text("G");
  var lg = svg.append("g").attr("transform", "translate(792,296)");
  lg.append("rect").attr("width", 94).attr("height", 47).attr("fill", "#fff").attr("stroke", GREY);
  lg.append("line").attr("x1", 11).attr("x2", 36).attr("y1", 16).attr("y2", 16).attr("stroke", "#000").attr("stroke-width", 2.5);
  lg.append("line").attr("x1", 14).attr("x2", 33).attr("y1", 31).attr("y2", 31).attr("stroke", "#EAEADD")
    .attr("stroke-width", 9).attr("stroke-linecap", "round");
  lg.append("text").attr("x", 47).attr("y", 20.5).attr("font-size", 13).text("MDS1");
  lg.append("text").attr("x", 47).attr("y", 35.5).attr("font-size", 13).text("p<0.05");
})();

// ---------- H ----------
(function () {
  var left = 931, top = 294, w = 344, h = 188;
  var g = svg.append("g").attr("transform", `translate(${left},${top})`);
  var x = d3.scaleLinear().domain([-0.04, 1.04]).range([0, w]);
  var y = d3.scaleLinear().domain([-0.043, 1.0465]).range([h, 0]);
  var line = d3.line().x(d => x(d[0])).y(d => y(d[1])).curve(d3.curveStepAfter);
  var rocs = [rocOTU, rocGenus, rocFamily, rocOrder, rocClass, rocPhylum];
  for (var i = rocs.length - 1; i >= 0; i--) {
    g.append("path").attr("d", line(rocs[i])).attr("fill", "none")
      .attr("stroke", rocColors[i]).attr("stroke-width", 2.5);
  }
  var a = g.append("g").attr("transform", `translate(0,${h})`)
    .call(d3.axisBottom(x).tickValues([0, 0.2, 0.4, 0.6, 0.8, 1.0]).tickSize(3).tickPadding(0).tickFormat(f1));
  a.select(".domain").remove();
  a.selectAll("line").attr("stroke", GREY);
  a.selectAll("text").attr("font-size", 10.5).attr("fill", "#1a1a1a");
  leftAxis(g, y, [0, 0.2, 0.4, 0.6, 0.8, 1.0], f1);
  var lg = g.append("g").attr("transform", `translate(200,70)`);
  lg.append("rect").attr("width", 144).attr("height", 118).attr("fill", "#fff").attr("stroke", GREY);
  lg.append("text").attr("x", 44).attr("y", 19.5).attr("font-size", 12.5).text("Input Data");
  lg.append("text").attr("x", 109).attr("y", 19.5).attr("font-size", 12.5).text("AUC");
  rocNames.forEach(function (n, k) {
    var cy = 28.5 + k * 14.9;
    lg.append("line").attr("x1", 11).attr("x2", 34).attr("y1", cy).attr("y2", cy)
      .attr("stroke", rocColors[k]).attr("stroke-width", 2.5);
    lg.append("text").attr("x", 44).attr("y", cy + 4.5).attr("font-size", 12.5).text(n);
    lg.append("text").attr("x", 133).attr("y", cy + 4.5).attr("text-anchor", "end").attr("font-size", 12.5).text(rocAUC[k]);
  });
  frame(g, w, h);
  g.append("text").attr("x", w / 2).attr("y", h + 21.5).attr("text-anchor", "middle").attr("font-size", 10.5).text("False positive rate");
  g.append("text").attr("transform", `translate(-22,${h / 2}) rotate(-90)`)
    .attr("text-anchor", "middle").attr("font-size", 12).text("True positive rate");
  g.append("text").attr("x", -38).attr("y", -6).attr("font-size", 29).text("H");
})();

// ---------- caption ----------
var captionLines = [
  [["Fig. 1", "b"], [" Differences in microbial composition between urban and rural Chinese subjects. ", ""], ["a-f", "b"], [" PCoA plot and comparison of Shannon diversity index", ""]],
  [["for each taxonomic level, based on sequencing the 16S rRNA gene. Points are colored by urban/rural status and shaped by timepoint (each", ""]],
  [["subject gave two samples, separated by 2 weeks). Key is in the top right. Numbers in parentheses on the PCoA axes indicate the percent", ""]],
  [["variation explained by that axis. ", ""], ["g", "b"], [" ", ""], ["P", "i"], [" values comparing the position on the first PCoA axis of urban and rural samples. The gray region indicates", ""]],
  [["significant ", ""], ["P", "i"], [" values (", ""], ["p", "i"], [" < 0.05). ", ""], ["h", "b"], [" ROC curve using leave-one-out predictions of urban or rural status using a random forest classifier. The area under", ""]],
  [["the curve (AUC) is indicated in the legend", ""]]
];
var captionEnds = [1277, 1147, 1180, 1240, 1275, 386];
captionLines.forEach(function (segs, i) {
  var t = svg.append("text").attr("font-size", 17.5).style("white-space", "pre")
    .style("font-family", '"Liberation Sans", Arial, sans-serif')
    .attr("fill", "#231f20");
  segs.forEach(function (s) {
    t.append("tspan").text(s[0])
      .attr("font-weight", s[1] === "b" ? "bold" : null)
      .attr("font-style", s[1] === "i" ? "italic" : null);
  });
  var wNat = t.node().getBBox().width;
  var k = (captionEnds[i] - 18) / wNat;
  t.attr("transform", `translate(18,${523 + i * 25}) scale(${k},1)`);
});

// outer frame
svg.append("path").attr("d", "M8,0 V665 Q8,677 20,677 H1273 Q1285,677 1285,665 V0")
  .attr("fill", "none").attr("stroke", "#333").attr("stroke-width", 1.2);
</script>
</body>
</html>
